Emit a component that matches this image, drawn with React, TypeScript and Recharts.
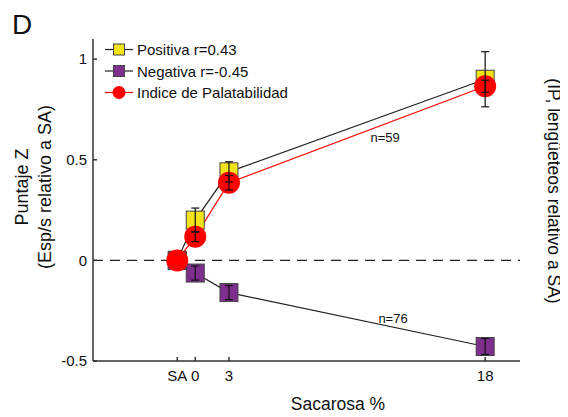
import {
  LineChart,
  Line,
  XAxis,
  YAxis,
  ErrorBar,
  ReferenceLine,
  ReferenceDot,
  Legend,
} from "recharts";

const categories = ["SA", "0", "3", "18"];
// x positions (axis units) of each category
const xPositions = [-1.6, 0, 3, 25.8];
const positiva = [0, 0.2, 0.44, 0.9];
const positivaErr = [0, 0.06, 0.05, 0.137];
const negativa = [0, -0.063, -0.16, -0.428];
const negativaErr = [0, 0.035, 0.035, 0.04];
const indice = [0, 0.118, 0.386, 0.865];
const indiceErr = [0, 0.025, 0.036, 0.03];
const yTicks = [-0.5, 0, 0.5, 1];

const data = categories.map((c, i) => ({
  cat: c,
  x: xPositions[i],
  positiva: positiva[i],
  positivaErr: positivaErr[i],
  negativa: negativa[i],
  negativaErr: negativaErr[i],
  indice: indice[i],
  indiceErr: indiceErr[i],
}));

const FONT = "'Liberation Sans', Arial, sans-serif";
const YELLOW = "#F2E31A";
const PURPLE = "#7E2F8E";
const RED = "#FF0000";
const INK = "#222";

const squareDot = (fill: string) => (props: any) => {
  const { cx, cy, index } = props;
  return (
    <rect
      key={`sq-${fill}-${index}`}
      x={cx - 9}
      y={cy - 9}
      width={18}
      height={18}
      fill={fill}
      stroke="#444"
      strokeWidth={1}
    />
  );
};

const renderLegend = () => {
  const rows = [
    { label: "Positiva r=0.43", type: "square", color: YELLOW, line: INK },
    { label: "Negativa r=-0.45", type: "square", color: PURPLE, line: INK },
    { label: "Indice de Palatabilidad", type: "circle", color: RED, line: RED },
  ];
  return (
    <svg width={240} height={70} style={{ display: "block" }}>
      {rows.map((r, i) => {
        const y = 11.5 + i * 21.5;
        return (
          <g key={r.label}>
            <line x1={7} x2={35} y1={y} y2={y} stroke={r.line} strokeWidth={1.2} />
            {r.type === "square" ? (
              <rect x={15.5} y={y - 5.5} width={11} height={11} fill={r.color} stroke="#444" />
            ) : (
              <circle cx={21} cy={y} r={6.5} fill={RED} />
            )}
            <text
              x={39}
              y={y}
              dominantBaseline="central"
              fontFamily={FONT}
              fontSize={15}
              fill="#111"
            >
              {r.label}
            </text>
          </g>
        );
      })}
    </svg>
  );
};

const renderYLabel = () => (
  <g fontFamily={FONT} fill="#111">
    <text x={4} y={26} fontSize={28}>
      D
    </text>
    <text
      x={14}
      y={179}
      fontSize={18}
      textAnchor="middle"
      dominantBaseline="central"
      transform="rotate(-90 14 179)"
    >
      Puntaje Z
    </text>
    <text
      x={37}
      y={179}
      fontSize={18}
      textAnchor="middle"
      dominantBaseline="central"
      transform="rotate(-90 37 179)"
    >
      (Esp/s relativo a SA)
    </text>
  </g>
);

const renderXLabel = () => (
  <g fontFamily={FONT} fill="#111">
    <text x={330} y={402} fontSize={17.5} textAnchor="middle">
      Sacarosa %
    </text>
    <text
      x={546}
      y={183}
      fontSize={17.5}
      textAnchor="middle"
      dominantBaseline="central"
      transform="rotate(90 546 183)"
    >
      (IP, lengüeteos relativo a SA)
    </text>
  </g>
);

export default function App() {
  return (
    <div style={{ width: 560, height: 409, position: "relative" }}>
      <LineChart
        width={560}
        height={409}
        data={data}
        margin={{ top: 31, right: 48, bottom: 26, left: 0 }}
      >
        <XAxis
          dataKey="x"
          type="number"
          domain={[-9.1, 28.9]}
          ticks={xPositions}
          interval={0}
          tickFormatter={(v: number) => categories[xPositions.indexOf(v)]}
          height={30}
          stroke="#333"
          strokeWidth={1.5}
          tickSize={-4}
          tickMargin={13}
          tick={{ fill: "#111", fontSize: 15, fontFamily: FONT }}
          allowDataOverflow
          label={{ content: renderXLabel }}
        />
        <YAxis
          type="number"
          domain={[-0.5, 1.1]}
          ticks={yTicks}
          interval={0}
          width={85}
          stroke="#333"
          strokeWidth={1.5}
          tickSize={-4}
          tickMargin={10}
          tick={{ fill: "#111", fontSize: 15, fontFamily: FONT }}
          allowDataOverflow
          label={{ content: renderYLabel }}
        />
        <ReferenceLine y={0} stroke={INK} strokeDasharray="10 7" strokeWidth={1.2} />
        <Line
          dataKey="positiva"
          stroke={INK}
          strokeWidth={1.2}
          dot={squareDot(YELLOW)}
          isAnimationActive={false}
        />
        <Line
          dataKey="negativa"
          stroke={INK}
          strokeWidth={1.2}
          dot={squareDot(PURPLE)}
          isAnimationActive={false}
        />
        <Line
          dataKey="indice"
          stroke={RED}
          strokeWidth={1.2}
          dot={{ r: 11, fill: RED, stroke: RED, strokeWidth: 0 }}
          isAnimationActive={false}
        />
        <Line dataKey="positiva" stroke="none" dot={false} isAnimationActive={false}>
          <ErrorBar dataKey="positivaErr" width={4} stroke="#111" strokeWidth={1.2} zIndex={1000} />
        </Line>
        <Line dataKey="negativa" stroke="none" dot={false} isAnimationActive={false}>
          <ErrorBar dataKey="negativaErr" width={4} stroke="#111" strokeWidth={1.2} zIndex={1000} />
        </Line>
        <Line dataKey="indice" stroke="none" dot={false} isAnimationActive={false}>
          <ErrorBar dataKey="indiceErr" width={4} stroke="#111" strokeWidth={1.2} zIndex={1000} />
        </Line>
        <ReferenceDot
          x={16.9}
          y={0.613}
          r={0}
          fill="none"
          stroke="none"
          label={{ value: "n=59", position: "center", fontSize: 13, fontFamily: FONT, fill: "#111" }}
        />
        <ReferenceDot
          x={17.6}
          y={-0.287}
          r={0}
          fill="none"
          stroke="none"
          label={{ value: "n=76", position: "center", fontSize: 13, fontFamily: FONT, fill: "#111" }}
        />
        <Legend
          layout="vertical"
          align="center"
          verticalAlign="middle"
          content={renderLegend}
          wrapperStyle={{ left: 90, top: 30, width: 240, height: 70 }}
        />
      </LineChart>
    </div>
  );
}
